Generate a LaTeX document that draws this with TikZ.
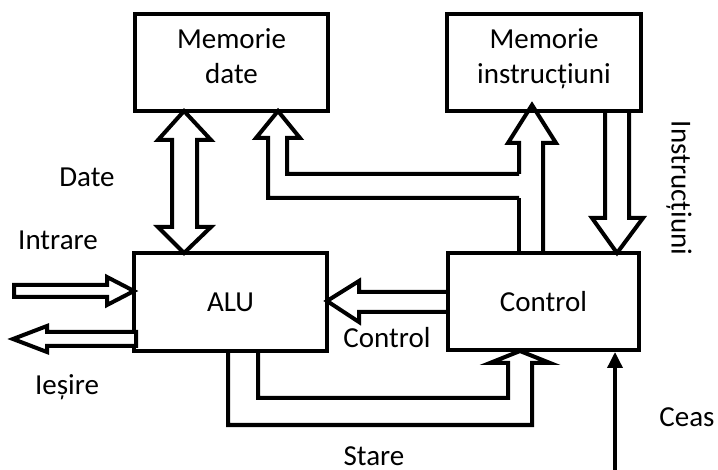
\documentclass[tikz,border=0pt]{standalone}
\usepackage{fontspec}
\setmainfont{Carlito}
\usetikzlibrary{arrows.meta}
\begin{document}
\begin{tikzpicture}[x=1pt,y=-1pt,line width=4pt,
  font=\fontsize{29}{35}\selectfont,
  unit/.style={draw,rectangle,inner sep=0pt,minimum width=#1},
  txt/.style={inner sep=0pt,anchor=base},
  blockarrow/.style={draw,fill=white,line join=miter}]
\useasboundingbox (0,0) rectangle (718,470);

% functional units
\node[unit=193pt,minimum height=97pt] (md) at (231.5,62.5) {};
\node[unit=194pt,minimum height=97pt] (mi) at (544,62.5) {};
\node[unit=193pt,minimum height=98pt] (alu) at (230.5,302) {ALU};
\node[unit=191pt,minimum height=97pt] (ctl) at (543.5,301.5) {Control};
\node[inner sep=0pt,align=center] (mdt) at (md.center) [yshift=6.5pt] {Memorie\\date};
\node[inner sep=0pt,align=center] (mit) at (mi.center) [yshift=4pt] {Memorie\\instrucțiuni};

% data bus between data memory and ALU
\draw[blockarrow] (184,111) -- (211,140) -- (197,140) -- (197,227) -- (211,227)
  -- (184,253) -- (158,227) -- (172,227) -- (172,140) -- (158,140) -- cycle;

% address path from control to instruction memory
\draw[line join=miter] (519,253) -- (519,198);
\draw[line join=miter] (519,174) -- (519,143) -- (508,143) -- (532,105)
  -- (556,143) -- (543,143) -- (543,253);

% branch to data memory
\fill[white] (278,111) -- (300,138) -- (287,138) -- (287,174) -- (519,174)
  -- (519,198) -- (268,198) -- (268,138) -- (256,138) -- cycle;
\draw[line join=miter] (519,174) -- (287,174) -- (287,138) -- (300,138)
  -- (278,111) -- (256,138) -- (268,138) -- (268,198) -- (519,198);

% instructions to control
\draw[line join=miter] (605,111) -- (605,218) -- (592,218) -- (617,253)
  -- (643,218) -- (629,218) -- (629,111);

% input and output
\draw[blockarrow] (14,285) -- (107,285) -- (107,277) -- (134,291)
  -- (107,305) -- (107,297) -- (14,297) -- cycle;
\draw[blockarrow] (136,332) -- (47,332) -- (47,326) -- (13,339)
  -- (47,352) -- (47,346) -- (136,346) -- cycle;

% control signals to ALU
\draw[line join=miter] (449,292) -- (359,292) -- (359,281) -- (327,301)
  -- (359,322) -- (359,312) -- (449,312);

% status back to control
\draw[line join=miter] (228,351) -- (228,425) -- (532,425) -- (532,363)
  -- (550,363) -- (520,351) -- (490,363) -- (508,363) -- (508,398)
  -- (258,398) -- (258,351);

% clock
\coordinate (clk) at (615,470);
\draw[line width=3.5pt,-{Triangle[width=15pt,length=16pt]}] (clk) -- (clk |- ctl.south);

% labels
\node[txt] (ldate) at (87,187) {Date};
\node[txt] (lin) at (58,250) {Intrare};
\node[txt] (lout) at (67,395) {Ieșire};
\node[txt] (lctl) at (387,348) {Control};
\node[txt] (lst) at (374,465) {Stare};
\node[txt] (lclk) at (687,427) {Ceas};
\node[inner sep=0pt,rotate=-90] (lins) at (679,188) {Instrucțiuni};
\end{tikzpicture}
\end{document}
